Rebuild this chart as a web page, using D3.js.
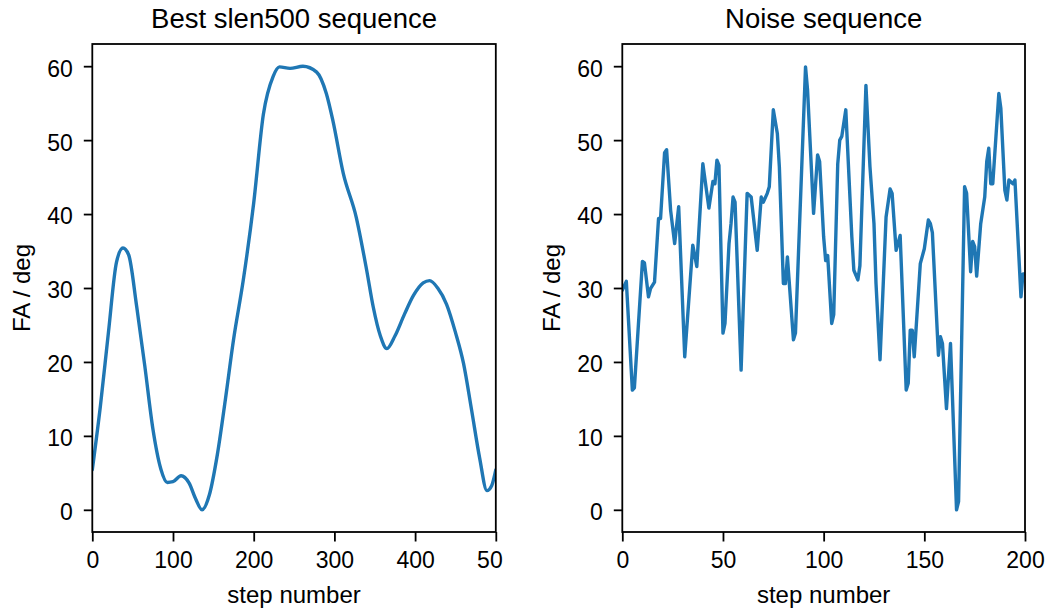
<!DOCTYPE html>
<html>
<head>
<meta charset="utf-8">
<script src="https://cdn.jsdelivr.net/npm/d3@7"></script>
<style>
  body { margin: 0; background: #fff; }
  text { font-family: "Liberation Sans", Arial, sans-serif; fill: #000; }
</style>
</head>
<body>
<svg id="chart"></svg>
<script>
// left panel: best sequence (step -> FA)
const bestSteps = [0, 10, 20, 30, 38, 45, 55, 65, 75, 85, 93, 100, 110, 120, 128, 136, 145, 155, 165, 175,
  187, 200, 212, 224, 232, 245, 261, 278, 290, 298, 311, 327, 340, 348, 357, 365, 375, 387, 398, 410,
  418, 428, 439, 450, 460, 470, 480, 489, 495, 500];
const bestFA = [5.4, 14, 24, 33.5, 35.4, 34.5, 27.5, 19.5, 11, 5.5, 3.7, 3.8, 4.6, 3.6, 1.5, 0, 2, 7.5, 15, 23,
  31, 41.5, 53.5, 58.6, 59.9, 59.7, 60, 59.2, 56.3, 52.7, 45.5, 39.6, 32.4, 27.5, 23.5, 21.8, 23.5, 26.5, 29, 30.7,
  31, 30, 27.8, 24, 19.8, 13.5, 7, 2.6, 3.3, 5.4];

// right panel: noise sequence
const noiseSteps = [0, 2, 5, 6, 10, 11, 13, 14, 16, 18, 19, 21, 22, 24, 26, 28, 31, 35, 37, 40,
  43, 45, 46, 47, 48, 50, 51, 53, 54, 55, 56, 59, 62, 64, 67, 69, 70, 72, 73, 75,
  77, 78, 80, 81, 82, 85, 86, 91, 92, 95, 97, 98, 100, 101, 102, 104, 105, 107, 108, 109,
  111, 114, 115, 117, 118, 121, 123, 125, 126, 128, 131, 133, 134, 136, 138, 141, 142, 143, 144, 145,
  148, 150, 152, 153, 154, 157, 158, 159, 161, 163, 166, 167, 170, 171, 173, 174, 175, 176, 178, 180,
  181, 182, 183, 184, 187, 188, 190, 191, 192, 194, 195, 198, 199, 200];
const noiseFA = [29.7, 30.9, 16.2, 16.5, 33.6, 33.4, 28.8, 29.9, 30.8, 39.4, 39.4, 48.3, 48.7, 40.5, 36, 41, 20.7, 35.8, 32.9, 46.8,
  40.8, 44.4, 44.1, 47.3, 46.6, 23.9, 25.2, 36, 38.7, 42.3, 41.6, 18.9, 42.8, 42.3, 35.1, 42.3, 41.6, 42.8, 43.7, 54.1,
  50.9, 46.4, 30.6, 30.6, 34.2, 23, 23.9, 59.9, 56.8, 40.1, 48, 47.1, 36.9, 33.7, 34.4, 25.2, 26.4, 46.8, 50, 50.5,
  54.1, 36.9, 32.4, 31.1, 33, 57.4, 46.4, 38.7, 30.6, 20.3, 39.6, 43.4, 42.8, 35.1, 37.1, 16.2, 17.1, 24.3, 24.3, 20.7,
  33.3, 35.3, 39.2, 38.7, 37.5, 20.9, 23.4, 22.5, 13.7, 22.5, 0, 1.1, 43.7, 42.8, 32.2, 36.3, 35.6, 31.6, 38.7, 42.3,
  47.1, 48.9, 44.1, 44.1, 56.3, 54.3, 43.2, 41.9, 44.6, 44.1, 44.6, 28.8, 31.9, 31.9];

const yTicks = [0, 10, 20, 30, 40, 50, 60];
const bestXTicks = [0, 100, 200, 300, 400, 500];
const noiseXTicks = [0, 50, 100, 150, 200];

const width = 1057, height = 613;
const plotTop = 44, plotBottom = 532;
const lineColor = "#1f77b4";

const svg = d3.select("#chart").attr("width", width).attr("height", height);

const panels = [
  { title: "Best slen500 sequence", steps: bestSteps, fa: bestFA, xMax: 500, xTicks: bestXTicks,
    left: 92.3, right: 495.8, curve: d3.curveMonotoneX },
  { title: "Noise sequence", steps: noiseSteps, fa: noiseFA, xMax: 200, xTicks: noiseXTicks,
    left: 622.3, right: 1025, curve: d3.curveLinear }
];

// the original left image is cut just after its axes, so its last tick label shows as "50"
const cutX = 503;
const defs = svg.append("defs");

panels.forEach((p, i) => {
  defs.append("clipPath").attr("id", "panel" + i)
    .append("rect").attr("x", i === 0 ? 0 : cutX).attr("y", 0)
    .attr("width", i === 0 ? cutX : width - cutX).attr("height", height);
  defs.append("clipPath").attr("id", "plot" + i)
    .append("rect").attr("x", p.left).attr("y", plotTop)
    .attr("width", p.right - p.left).attr("height", plotBottom - plotTop);

  const g = svg.append("g").attr("clip-path", `url(#panel${i})`);

  const x = d3.scaleLinear().domain([0, p.xMax]).range([p.left, p.right]);
  const y = d3.scaleLinear().domain([-3, 63]).range([plotBottom, plotTop]);

  const line = d3.line()
    .x((d, j) => x(p.steps[j]))
    .y((d) => y(d))
    .curve(p.curve);

  g.append("path")
    .datum(p.fa)
    .attr("clip-path", `url(#plot${i})`)
    .attr("d", line)
    .attr("fill", "none")
    .attr("stroke", lineColor)
    .attr("stroke-width", 3.4)
    .attr("stroke-linejoin", "round")
    .attr("stroke-linecap", "round");

  // axes
  const xAxis = g.append("g")
    .attr("transform", `translate(0, ${plotBottom})`)
    .call(d3.axisBottom(x).tickValues(p.xTicks).tickSize(9.5).tickPadding(10.5).tickFormat(d3.format("d")));
  const yAxis = g.append("g")
    .attr("transform", `translate(${p.left}, 0)`)
    .call(d3.axisLeft(y).tickValues(yTicks).tickSize(8.5).tickPadding(11).tickFormat(d3.format("d")));

  [xAxis, yAxis].forEach((a) => {
    a.select(".domain").remove();
    a.selectAll(".tick line").attr("stroke", "#000").attr("stroke-width", 1.8);
    a.selectAll(".tick text").style("font-size", "23px").attr("fill", "#000");
  });
  yAxis.selectAll(".tick text").attr("dy", "0.43em");

  // frame
  g.append("rect")
    .attr("x", p.left).attr("y", plotTop)
    .attr("width", p.right - p.left).attr("height", plotBottom - plotTop)
    .attr("fill", "none").attr("stroke", "#000").attr("stroke-width", 1.8);

  // title and labels
  g.append("text")
    .attr("x", (p.left + p.right) / 2).attr("y", 28)
    .attr("text-anchor", "middle")
    .style("font-size", "27.5px")
    .text(p.title);

  g.append("text")
    .attr("x", (p.left + p.right) / 2).attr("y", 603)
    .attr("text-anchor", "middle")
    .style("font-size", "24px")
    .text("step number");

  g.append("text")
    .attr("transform", `translate(${p.left - 62}, ${(plotTop + plotBottom) / 2}) rotate(-90)`)
    .attr("text-anchor", "middle")
    .style("font-size", "24px")
    .text("FA / deg");
});
</script>
</body>
</html>
